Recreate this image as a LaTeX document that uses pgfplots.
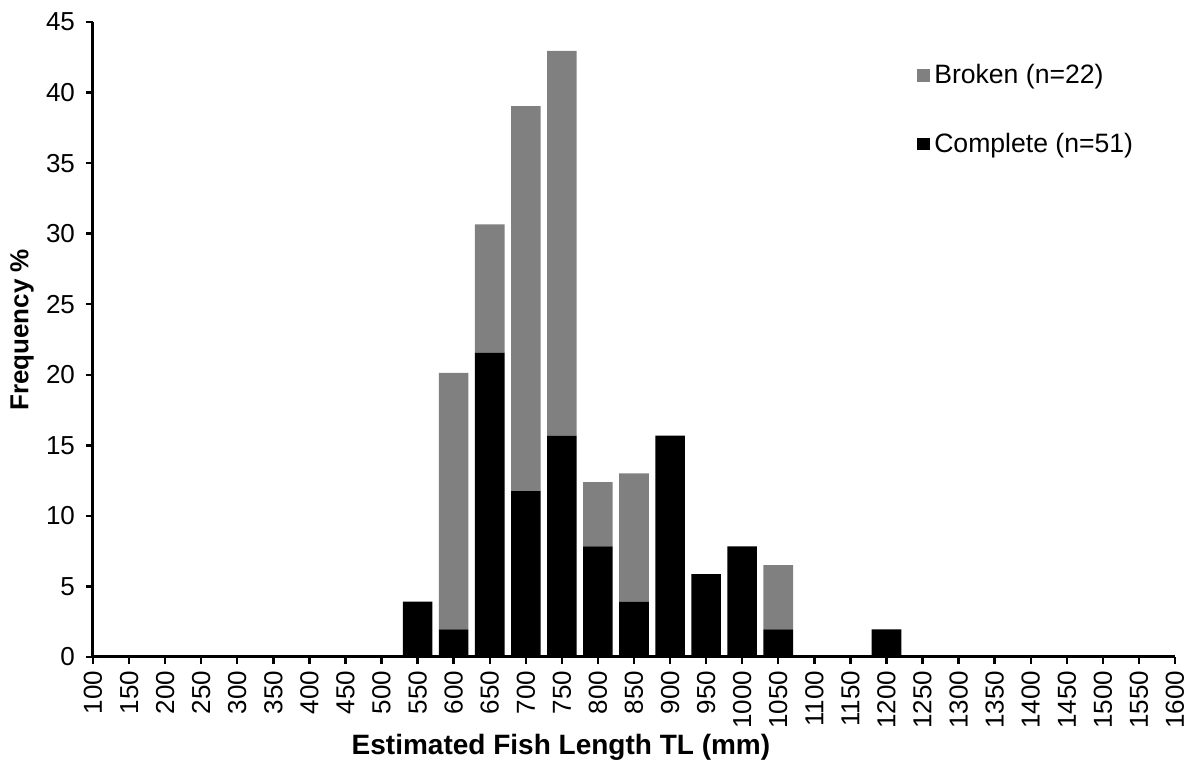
\documentclass[border=0pt]{standalone}
\usepackage{fontspec}
\setmainfont{Liberation Sans}
\usepackage{pgfplots}
\pgfplotsset{compat=1.18}
\definecolor{brokengray}{RGB}{128,128,128}

\begin{document}
\begin{tikzpicture}
\begin{axis}[
  scale only axis, width=541pt, height=317.5pt,
  ybar stacked, bar width=41,
  xmin=100, xmax=1600, ymin=0, ymax=45,
  xtick={100,150,...,1600}, ytick={0,5,...,45},
  axis x line*=bottom, axis y line*=left,
  axis line style={line width=1.5pt},
  tick style={line width=1.2pt, black},
  major tick length=3.5pt, tick align=outside,
  /pgf/number format/assume math mode=true,
  /pgf/number format/1000 sep={},
  ticklabel style={font=\fontsize{13}{15}\selectfont},
  x tick label style={rotate=90, anchor=east},
  y tick label style={xshift=-2pt},
  xlabel={\textbf{Estimated Fish Length TL (mm)}},
  ylabel={\textbf{Frequency \%}},
  xlabel style={font=\fontsize{14}{16}\selectfont,
    at={(axis description cs:0.4325,-0.143)}, anchor=center},
  ylabel style={font=\fontsize{13}{15}\selectfont,
    at={(axis description cs:-0.0656,0.515)}, anchor=center},
  reverse legend,
  legend cell align=left,
  legend style={at={(axis description cs:0.7616,0.94)}, anchor=north west,
    draw=none, fill=none, inner sep=0pt, row sep=19pt,
    font=\fontsize{13.3}{15}\selectfont},
  legend image code/.code={\draw[#1,draw=none] (0pt,-3.2pt) rectangle (6.4pt,3.2pt);},
  clip=false,
]
\addplot[fill=black, draw=none] coordinates {
  (550,3.92) (600,1.96) (650,21.57) (700,11.76) (750,15.69) (800,7.84)
  (850,3.92) (900,15.69) (950,5.88) (1000,7.84) (1050,1.96) (1200,1.96)
};
\addlegendentry{Complete (n=51)}
\addplot[fill=brokengray, draw=none] coordinates {
  (550,0) (600,18.18) (650,9.09) (700,27.27) (750,27.27) (800,4.55)
  (850,9.09) (900,0) (950,0) (1000,0) (1050,4.55) (1200,0)
};
\addlegendentry{Broken (n=22)}
\coordinate (sw) at (rel axis cs:0,0);
\coordinate (ne) at (rel axis cs:1,1);
\end{axis}
\path ([shift={(-46.5pt,-56pt)}]sw) rectangle ([shift={(9pt,11pt)}]ne);
\end{tikzpicture}
\end{document}
